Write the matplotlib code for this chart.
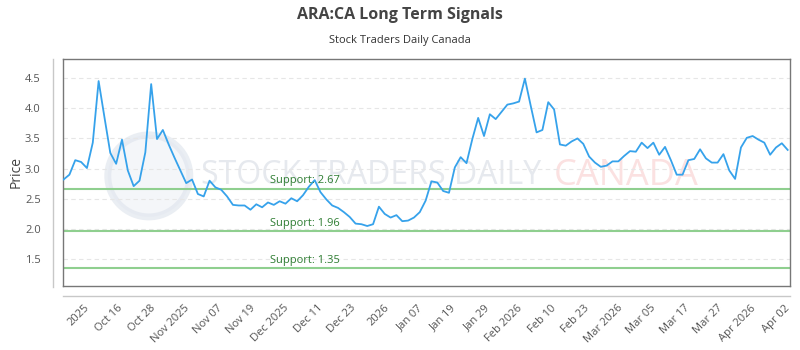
import matplotlib
matplotlib.use("Agg")
import matplotlib.pyplot as plt
from matplotlib.lines import Line2D
from matplotlib.patches import Ellipse
import numpy as np

plt.rcParams['font.family'] = ['Open Sans', 'DejaVu Sans']

# --- data ---
prices = [
    2.82, 2.90, 3.14, 3.11, 3.01, 3.43, 4.45, 3.85, 3.26, 3.08,
    3.48, 2.97, 2.71, 2.80, 3.27, 4.40, 3.49, 3.64, 3.40, 3.18,
    2.97, 2.76, 2.82, 2.58, 2.54, 2.80, 2.69, 2.65, 2.54, 2.40,
    2.39, 2.39, 2.32, 2.41, 2.36, 2.44, 2.40, 2.46, 2.42, 2.51,
    2.46, 2.56, 2.70, 2.81, 2.61, 2.49, 2.39, 2.35, 2.28, 2.20,
    2.09, 2.08, 2.05, 2.08, 2.37, 2.25, 2.19, 2.23, 2.13, 2.14,
    2.19, 2.28, 2.47, 2.79, 2.77, 2.63, 2.60, 3.02, 3.19, 3.09,
    3.49, 3.84, 3.54, 3.90, 3.82, 3.94, 4.06, 4.08, 4.11, 4.49,
    4.04, 3.60, 3.64, 4.10, 3.98, 3.40, 3.38, 3.45, 3.50, 3.41,
    3.20, 3.10, 3.03, 3.05, 3.12, 3.12, 3.21, 3.29, 3.28, 3.43,
    3.34, 3.43, 3.23, 3.36, 3.14, 2.90, 2.90, 3.14, 3.16, 3.32,
    3.17, 3.10, 3.10, 3.24, 2.97, 2.83, 3.35, 3.51, 3.54, 3.48,
    3.43, 3.23, 3.35, 3.42, 3.31,
]
tick_labels = [
    '2025', 'Oct 16', 'Oct 28', 'Nov 2025', 'Nov 07', 'Nov 19',
    'Dec 2025', 'Dec 11', 'Dec 23', '2026', 'Jan 07', 'Jan 19',
    'Jan 29', 'Feb 2026', 'Feb 10', 'Feb 23', 'Mar 2026', 'Mar 05',
    'Mar 17', 'Mar 27', 'Apr 2026', 'Apr 02',
]
supports = [2.67, 1.96, 1.35]

x = np.arange(len(prices))
tick_pos = np.linspace(3.4, 123.4, len(tick_labels))

fig = plt.figure(figsize=(8, 3.5), dpi=100)
ax = fig.add_axes([63 / 800, 1 - 286 / 350, 727 / 800, 227 / 350])

# watermark (logo circle + text)
ax.add_patch(Ellipse((0.118, 0.485), 82 / 727, 82 / 227, transform=ax.transAxes,
                     facecolor='#eef1f6', edgecolor='#dde3ec', linewidth=5,
                     alpha=0.6, zorder=0))
ax.text(0.19, 0.485, 'STOCK TRADERS DAILY', transform=ax.transAxes, fontsize=23,
        color='#e6e9ee', va='center', ha='left', zorder=0)
ax.text(0.675, 0.485, 'CANADA', transform=ax.transAxes, fontsize=26,
        color='#fbe1e1', va='center', ha='left', zorder=0)

ax.plot(x, prices, color='#36a2eb', linewidth=1.3, zorder=3)

for s in supports:
    ax.axhline(s, color='#8fcf8f', linewidth=1.5, zorder=2)
    ax.text(0.285, s + 0.04, f'Support: {s:.2f}', transform=ax.get_yaxis_transform(),
            color='#2e7d32', fontsize=8, va='bottom', ha='left', zorder=4)

ax.set_xlim(-0.1, 124.4)
ax.set_ylim(1.057, 4.815)
ax.set_yticks([1.5, 2.0, 2.5, 3.0, 3.5, 4.0, 4.5])
ax.set_xticks(tick_pos)
ax.set_xticklabels(tick_labels, rotation=45, ha='right', rotation_mode='anchor')
ax.tick_params(axis='both', length=0, labelsize=8, colors='#555555')
ax.tick_params(axis='x', pad=12)
ax.tick_params(axis='y', pad=16)
ax.grid(True, axis='y', color='#e6e6e6', linestyle=(0, (4, 3)), linewidth=0.8)
for sp in ax.spines.values():
    sp.set_color('#777777')
    sp.set_linewidth(1)
ax.set_ylabel('Price', fontsize=10, color='#444444', labelpad=1)

# detached axis lines
fig.add_artist(Line2D([53 / 800, 53 / 800], [1 - 59 / 350, 1 - 287 / 350],
                      color='#c8c8c8', linewidth=1))
fig.add_artist(Line2D([63 / 800, 790 / 800], [1 - 296 / 350, 1 - 296 / 350],
                      color='#c8c8c8', linewidth=1))

fig.text(0.5, 1 - 15 / 350, 'ARA:CA Long Term Signals', ha='center', va='center',
         fontsize=11.5, fontweight='bold', color='#444444')
fig.text(0.5, 1 - 40 / 350, 'Stock Traders Daily Canada', ha='center', va='center',
         fontsize=8, color='#333333')

fig.savefig('out.png', dpi=100)
